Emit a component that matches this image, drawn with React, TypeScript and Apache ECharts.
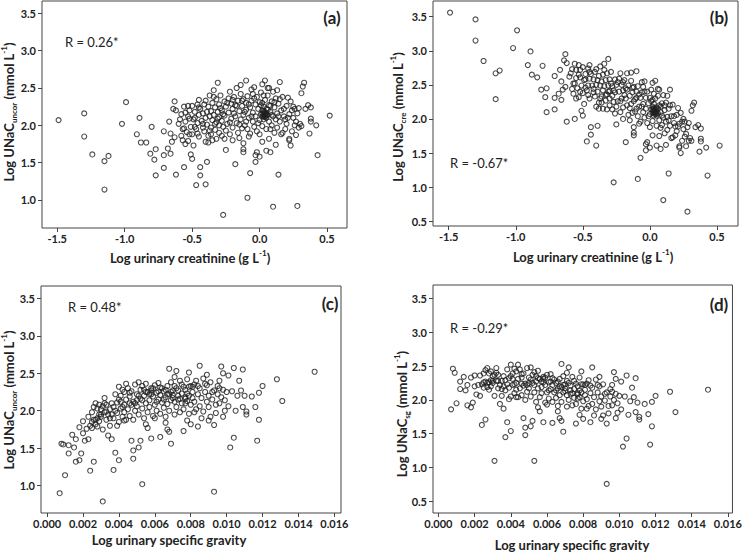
import React, { useEffect, useRef } from "react";
import * as echarts from "echarts";

// ---------- data ----------
const creatTicks = [-1.5, -1.0, -0.5, 0.0, 0.5];
const sgTicks = [0.0, 0.002, 0.004, 0.006, 0.008, 0.01, 0.012, 0.014, 0.016];
const yTicksA = [1.0, 1.5, 2.0, 2.5, 3.0, 3.5];
const yTicksB = [0.5, 1.0, 1.5, 2.0, 2.5, 3.0, 3.5];

const rLabels = ["R = 0.26*", "R = -0.67*", "R = 0.48*", "R = -0.29*"];
const panelLabels = ["(a)", "(b)", "(c)", "(d)"];

// (a) Log urinary creatinine vs Log UNaC_uncor
const panelA: number[][] = [
  [-1.49,2.07],[-1.30,2.16],[-1.30,1.85],[-1.24,1.61],[-1.15,1.52],[-1.12,1.59],[-1.15,1.14],[-1.02,2.02],[-0.99,2.31],[-0.89,2.10],
  [-0.91,1.88],[-0.88,1.77],[-0.84,1.77],[-0.80,1.98],[-0.81,1.62],[-0.78,1.54],[-0.77,1.68],[-0.77,1.33],[-0.71,1.92],[-0.71,1.60],
  [-0.71,1.43],[-0.68,1.69],[-0.67,2.05],[-0.66,1.89],[-0.66,1.62],[-0.65,1.78],[-0.63,1.84],[-0.64,2.22],[-0.63,2.32],[-0.62,2.20],
  [-0.62,1.34],[-0.59,2.08],[-0.57,1.80],[-0.56,1.44],[-0.56,1.96],[-0.55,2.17],[-0.55,1.75],[-0.53,2.26],[-0.52,1.88],[-0.51,1.61],
  [-0.50,1.55],[-0.49,1.73],[-0.48,2.10],[-0.47,1.20],[-0.46,1.89],[-0.45,2.34],[-0.44,1.44],[-0.44,1.33],[-0.42,1.97],[-0.41,2.28],
  [-0.40,1.21],[-0.39,1.51],[-0.38,1.77],[-0.37,2.40],[-0.36,1.88],[-0.34,2.47],[-0.32,1.82],[-0.31,2.57],[-0.30,2.00],[-0.28,1.86],
  [-0.27,0.80],[-0.25,1.67],[-0.22,2.45],[-0.20,1.80],[-0.18,1.48],[-0.17,2.50],[-0.14,2.54],[-0.12,1.76],[-0.12,1.64],[-0.12,1.68],
  [-0.10,2.60],[-0.09,1.03],[-0.07,1.36],[-0.05,2.42],[-0.04,2.51],[-0.03,1.60],[-0.03,1.51],[-0.02,1.64],[0.00,1.58],[0.03,2.40],
  [0.04,2.60],[0.05,1.66],[0.06,2.50],[0.08,1.64],[0.08,1.95],[0.10,0.91],[0.12,1.74],[0.14,1.34],[0.15,2.58],[0.15,2.35],
  [0.17,1.90],[0.19,2.08],[0.21,2.37],[0.22,1.80],[0.23,1.73],[0.24,2.20],[0.26,2.00],[0.27,1.87],[0.28,0.92],[0.29,2.23],
  [0.31,2.43],[0.32,2.52],[0.33,2.57],[0.34,2.22],[0.36,2.27],[0.37,1.89],[0.38,2.24],[0.38,2.09],[0.38,2.05],[0.42,2.00],
  [0.43,1.60],[0.52,2.13],[0.30,2.02],[0.31,1.99],[0.25,2.25],[0.22,1.82],
  [-0.60,2.02],[-0.58,2.15],[-0.57,1.95],[-0.56,2.25],[-0.55,2.05],[-0.54,1.91],[-0.53,2.12],[-0.52,2.20],[-0.51,1.98],[-0.50,2.26],
  [-0.50,1.88],[-0.49,2.08],[-0.48,2.18],[-0.47,1.95],[-0.46,2.28],[-0.46,2.03],[-0.45,1.85],[-0.45,2.14],[-0.44,2.22],[-0.43,2.06],
  [-0.42,2.16],[-0.41,1.92],[-0.40,2.33],[-0.40,2.10],[-0.39,2.01],[-0.38,2.25],[-0.38,1.86],[-0.37,2.12],[-0.36,2.19],[-0.36,1.97],
  [-0.35,2.30],[-0.35,2.07],[-0.34,2.14],[-0.33,1.94],[-0.33,2.24],[-0.32,2.35],[-0.32,2.04],[-0.31,2.18],[-0.30,2.11],[-0.30,1.90],
  [-0.30,2.28],[-0.29,2.40],[-0.28,2.06],[-0.28,2.20],[-0.27,1.98],[-0.26,2.32],[-0.26,2.13],[-0.25,2.25],[-0.25,1.93],[-0.24,2.02],
  [-0.23,2.36],[-0.23,2.17],[-0.22,1.88],[-0.21,2.29],[-0.21,2.09],[-0.20,2.22],[-0.20,1.97],[-0.19,2.38],[-0.18,2.12],[-0.18,2.27],
  [-0.17,2.03],[-0.16,2.33],[-0.16,1.90],[-0.15,2.19],[-0.14,2.42],[-0.14,2.08],[-0.13,2.26],[-0.13,1.96],[-0.12,2.35],[-0.12,2.14],
  [-0.11,2.00],[-0.10,2.30],[-0.10,2.21],[-0.09,1.95],[-0.09,2.39],[-0.08,2.10],[-0.07,2.24],[-0.07,1.89],[-0.06,2.33],[-0.05,2.05],
  [-0.05,2.17],[-0.04,1.98],[-0.03,2.28],[-0.03,2.12],[-0.02,2.38],[-0.02,1.92],[-0.01,2.22],[0.00,2.07],[0.00,2.31],[0.01,2.15],
  [0.01,2.44],[0.02,2.12],[0.02,2.20],[0.02,1.99],[0.03,2.16],[0.03,2.25],[0.03,2.08],[0.04,2.13],[0.04,2.18],[0.04,2.34],
  [0.05,2.10],[0.05,1.95],[0.05,2.22],[0.06,2.14],[0.06,2.40],[0.07,2.05],[0.07,2.27],[0.08,2.18],[0.09,2.32],[0.09,2.00],
  [0.10,2.12],[0.10,2.45],[0.11,1.90],[0.11,2.24],[0.12,2.08],[0.12,2.36],[0.13,2.16],[0.13,1.97],[0.14,2.29],[0.15,2.05],
  [0.16,2.20],[0.16,1.88],[0.17,2.38],[0.18,2.12],[0.19,1.95],[0.20,2.26],[0.20,2.02],[0.22,2.15],[0.23,2.32],[0.24,1.92],
  [0.25,2.10],[0.26,2.22],[0.27,2.05],[0.28,2.16],[0.29,1.97],
  [0.07,2.50],[0.13,2.47],[-0.06,2.48],[0.02,2.55],[-0.40,1.78],[-0.35,1.80],[-0.26,1.82],[-0.15,1.83],[-0.08,1.85],[0.00,1.88],
  [0.02,1.78],[0.07,1.82],[-0.58,1.86],[-0.53,1.79],
  [-0.45,2.24],[-0.42,2.02],[-0.39,2.18],[-0.37,1.93],[-0.34,2.38],[-0.31,2.09],[-0.29,2.23],[-0.27,2.15],[-0.24,2.30],[-0.22,2.04],
  [-0.19,2.16],[-0.17,2.26],[-0.15,2.01],[-0.13,2.33],[-0.11,2.18],[-0.08,2.28],[-0.06,2.12],[-0.04,2.36],[-0.01,2.03],[0.01,2.27],
  [0.03,2.19],[0.04,2.11],[0.05,2.16],[0.06,2.21],[0.08,2.26],[0.09,2.14],[0.11,2.31],[0.14,2.12],[0.18,2.22],[0.21,2.10],
  [-0.48,1.98],[-0.52,2.09],[-0.33,2.02],[-0.20,2.34],[-0.10,2.05],[0.02,2.30],[0.03,2.12],[0.04,2.15],[0.02,2.16],[0.05,2.13],
];

// (b) Log urinary creatinine vs Log UNaC_cre
const panelB: number[][] = [
  [-1.49,3.56],[-1.30,3.46],[-1.30,3.15],[-1.24,2.85],[-1.15,2.67],[-1.12,2.71],[-1.15,2.29],[-1.02,3.04],[-0.99,3.30],[-0.89,2.99],
  [-0.91,2.79],[-0.88,2.65],[-0.84,2.61],[-0.80,2.78],[-0.81,2.43],[-0.78,2.32],[-0.77,2.45],[-0.77,2.10],[-0.71,2.63],[-0.71,2.31],
  [-0.71,2.14],[-0.68,2.37],[-0.67,2.72],[-0.66,2.55],[-0.66,2.28],[-0.65,2.43],[-0.63,2.47],[-0.64,2.86],[-0.63,2.95],[-0.62,2.82],
  [-0.62,1.96],[-0.59,2.67],[-0.57,2.37],[-0.56,2.00],[-0.56,2.52],[-0.55,2.72],[-0.55,2.30],[-0.53,2.79],[-0.52,2.40],[-0.51,2.12],
  [-0.50,2.05],[-0.49,2.22],[-0.48,2.58],[-0.47,1.67],[-0.46,2.35],[-0.45,2.79],[-0.44,1.88],[-0.44,1.77],[-0.42,2.39],[-0.41,2.69],
  [-0.40,1.61],[-0.39,1.90],[-0.38,2.15],[-0.37,2.77],[-0.36,2.24],[-0.34,2.81],[-0.32,2.14],[-0.31,2.88],[-0.30,2.30],[-0.28,2.14],
  [-0.27,1.07],[-0.25,1.92],[-0.22,2.67],[-0.20,2.00],[-0.18,1.66],[-0.17,2.67],[-0.14,2.68],[-0.12,1.88],[-0.12,1.76],[-0.12,1.80],
  [-0.10,2.70],[-0.09,1.12],[-0.07,1.43],[-0.05,2.47],[-0.04,2.55],[-0.03,1.63],[-0.03,1.54],[-0.02,1.66],[0.00,1.58],[0.03,2.37],
  [0.04,2.56],[0.05,1.61],[0.06,2.44],[0.08,1.56],[0.08,1.87],[0.10,0.81],[0.12,1.62],[0.14,1.20],[0.15,2.43],[0.15,2.20],
  [0.17,1.73],[0.19,1.89],[0.21,2.16],[0.22,1.58],[0.23,1.50],[0.24,1.96],[0.26,1.74],[0.27,1.60],[0.28,0.64],[0.29,1.94],
  [0.31,2.12],[0.32,2.20],[0.33,2.24],[0.34,1.88],[0.36,1.91],[0.37,1.52],[0.38,1.86],[0.38,1.71],[0.38,1.67],[0.42,1.58],
  [0.43,1.17],[0.52,1.61],[0.30,1.72],[0.31,1.68],[0.25,2.00],[0.22,1.60],
  [-0.60,2.62],[-0.58,2.73],[-0.57,2.52],[-0.56,2.81],[-0.55,2.60],[-0.54,2.45],[-0.53,2.65],[-0.52,2.72],[-0.51,2.49],[-0.50,2.76],
  [-0.50,2.38],[-0.49,2.57],[-0.48,2.66],[-0.47,2.42],[-0.46,2.74],[-0.46,2.49],[-0.45,2.30],[-0.45,2.59],[-0.44,2.66],[-0.43,2.49],
  [-0.42,2.58],[-0.41,2.33],[-0.40,2.73],[-0.40,2.50],[-0.39,2.40],[-0.38,2.63],[-0.38,2.24],[-0.37,2.49],[-0.36,2.55],[-0.36,2.33],
  [-0.35,2.65],[-0.35,2.42],[-0.34,2.48],[-0.33,2.27],[-0.33,2.57],[-0.32,2.67],[-0.32,2.36],[-0.31,2.49],[-0.30,2.41],[-0.30,2.20],
  [-0.30,2.58],[-0.29,2.69],[-0.28,2.34],[-0.28,2.48],[-0.27,2.25],[-0.26,2.58],[-0.26,2.39],[-0.25,2.50],[-0.25,2.18],[-0.24,2.26],
  [-0.23,2.59],[-0.23,2.40],[-0.22,2.10],[-0.21,2.50],[-0.21,2.30],[-0.20,2.42],[-0.20,2.17],[-0.19,2.57],[-0.18,2.30],[-0.18,2.45],
  [-0.17,2.20],[-0.16,2.49],[-0.16,2.06],[-0.15,2.34],[-0.14,2.56],[-0.14,2.22],[-0.13,2.39],[-0.13,2.09],[-0.12,2.47],[-0.12,2.26],
  [-0.11,2.11],[-0.10,2.40],[-0.10,2.31],[-0.09,2.04],[-0.09,2.48],[-0.08,2.18],[-0.07,2.31],[-0.07,1.96],[-0.06,2.39],[-0.05,2.10],
  [-0.05,2.22],[-0.04,2.02],[-0.03,2.31],[-0.03,2.15],[-0.02,2.40],[-0.02,1.94],[-0.01,2.23],[0.00,2.07],[0.00,2.31],[0.01,2.14],
  [0.01,2.43],[0.02,2.10],[0.02,2.18],[0.02,1.97],[0.03,2.13],[0.03,2.22],[0.03,2.05],[0.04,2.09],[0.04,2.14],[0.04,2.30],
  [0.05,2.05],[0.05,1.90],[0.05,2.17],[0.06,2.08],[0.06,2.34],[0.07,1.98],[0.07,2.20],[0.08,2.10],[0.09,2.23],[0.09,1.91],
  [0.10,2.02],[0.10,2.35],[0.11,1.79],[0.11,2.13],[0.12,1.96],[0.12,2.24],[0.13,2.03],[0.13,1.84],[0.14,2.15],[0.15,1.90],
  [0.16,2.04],[0.16,1.72],[0.17,2.21],[0.18,1.94],[0.19,1.76],[0.20,2.06],[0.20,1.82],[0.22,1.93],[0.23,2.09],[0.24,1.68],
  [0.25,1.85],[0.26,1.96],[0.27,1.78],[0.28,1.88],[0.29,1.68],
  [0.07,2.43],[0.13,2.34],[-0.06,2.54],[0.02,2.53],[-0.40,2.18],[-0.35,2.15],[-0.26,2.08],[-0.15,1.98],[-0.08,1.93],[0.00,1.88],
  [0.02,1.76],[0.07,1.75],[-0.58,2.44],[-0.53,2.32],
  [-0.45,2.69],[-0.42,2.44],[-0.39,2.57],[-0.37,2.30],[-0.34,2.72],[-0.31,2.40],[-0.29,2.52],[-0.27,2.42],[-0.24,2.54],[-0.22,2.26],
  [-0.19,2.35],[-0.17,2.43],[-0.15,2.16],[-0.13,2.46],[-0.11,2.29],[-0.08,2.36],[-0.06,2.18],[-0.04,2.40],[-0.01,2.04],[0.01,2.26],
  [0.03,2.16],[0.04,2.07],[0.05,2.11],[0.06,2.15],[0.08,2.18],[0.09,2.05],[0.11,2.20],[0.14,1.98],[0.18,2.04],[0.21,1.89],
  [-0.48,2.46],[-0.52,2.61],[-0.33,2.35],[-0.20,2.54],[-0.10,2.15],[0.02,2.28],[0.03,2.09],[0.04,2.11],[0.02,2.14],[0.05,2.08],
];

// (c) Log urinary specific gravity vs Log UNaC_uncor
const panelC: number[][] = [
  [0.0007,0.90],[0.0008,1.56],[0.0009,1.55],[0.0010,1.14],[0.0012,1.54],[0.0012,1.43],[0.0014,1.68],[0.0016,1.62],[0.0015,1.51],[0.0016,1.32],
  [0.0018,1.34],[0.0019,1.43],[0.0018,1.78],[0.0020,1.86],[0.0020,1.70],[0.0021,1.60],[0.0022,1.76],[0.0023,1.62],[0.0024,1.20],[0.0025,1.77],
  [0.0025,1.98],[0.0026,1.32],[0.0026,2.05],[0.0027,2.10],[0.0027,1.82],[0.0028,1.90],[0.0028,1.79],[0.0029,2.08],[0.0029,1.86],[0.0030,2.02],
  [0.0030,1.95],[0.0031,0.79],[0.0031,1.75],[0.0032,2.17],[0.0032,2.10],[0.0033,1.88],[0.0033,1.99],[0.0034,1.67],[0.0035,1.80],[0.0036,1.95],
  [0.0036,1.62],[0.0037,1.21],[0.0038,1.44],[0.0039,1.80],[0.0039,2.11],[0.0039,1.97],[0.0040,2.32],[0.0040,1.34],[0.0041,2.20],[0.0042,2.05],
  [0.0042,1.92],[0.0043,2.25],[0.0043,1.87],[0.0047,1.60],[0.0048,1.47],[0.0048,1.36],[0.0051,1.51],[0.0052,1.60],[0.0053,1.02],[0.0055,1.82],
  [0.0056,1.77],[0.0058,1.63],[0.0060,1.90],[0.0063,1.65],[0.0066,1.84],[0.0067,1.75],[0.0068,1.72],[0.0069,1.56],[0.0068,2.56],[0.0071,2.45],
  [0.0072,2.53],[0.0076,1.73],[0.0077,2.10],[0.0078,1.87],[0.0079,2.51],[0.0080,1.82],[0.0082,1.98],[0.0085,2.60],[0.0084,1.79],[0.0086,1.90],
  [0.0089,2.48],[0.0090,1.87],[0.0091,1.92],[0.0093,0.92],[0.0093,1.81],[0.0094,1.97],[0.0096,2.40],[0.0097,2.59],[0.0098,2.50],[0.0098,1.92],
  [0.0099,2.00],[0.0101,2.47],[0.0102,1.51],[0.0103,2.26],[0.0104,1.64],[0.0104,2.57],[0.0105,2.00],[0.0106,2.20],[0.0107,2.40],[0.0108,2.27],
  [0.0109,2.55],[0.0109,2.05],[0.0110,2.20],[0.0111,1.95],[0.0111,1.99],[0.0114,2.19],[0.0116,2.05],[0.0117,1.60],[0.0118,2.24],[0.0118,1.88],
  [0.0120,2.33],[0.0128,2.42],[0.0131,2.13],[0.0149,2.52],
  [0.0044,2.15],[0.0045,2.02],[0.0045,2.30],[0.0046,1.93],[0.0046,2.19],[0.0047,2.08],[0.0047,2.26],[0.0048,1.88],[0.0048,2.12],[0.0049,2.35],
  [0.0049,2.00],[0.0050,2.22],[0.0050,2.06],[0.0051,2.38],[0.0051,1.95],[0.0052,2.16],[0.0052,2.28],[0.0053,2.03],[0.0053,2.33],[0.0054,1.90],
  [0.0054,2.20],[0.0055,2.10],[0.0055,2.36],[0.0056,1.98],[0.0056,2.25],[0.0057,2.14],[0.0057,2.05],[0.0058,2.30],[0.0058,2.27],[0.0059,1.93],
  [0.0059,2.19],[0.0060,2.34],[0.0060,2.08],[0.0061,2.24],[0.0061,2.00],[0.0062,2.15],[0.0062,2.37],[0.0063,2.21],[0.0063,1.96],[0.0064,2.11],
  [0.0064,2.30],[0.0065,2.04],[0.0065,2.26],[0.0066,2.18],[0.0066,1.92],[0.0067,2.33],[0.0067,2.09],[0.0068,2.22],[0.0068,2.00],[0.0069,2.14],
  [0.0069,2.38],[0.0070,2.17],[0.0070,2.27],[0.0071,1.95],[0.0071,2.12],[0.0072,2.30],[0.0072,2.05],[0.0073,2.20],[0.0073,2.15],[0.0074,2.40],
  [0.0074,1.98],[0.0075,2.23],[0.0075,2.10],[0.0076,2.32],[0.0076,2.02],[0.0077,2.18],[0.0077,2.28],[0.0078,2.13],[0.0078,2.42],[0.0079,2.20],
  [0.0079,1.96],[0.0080,2.33],[0.0080,2.08],[0.0081,2.25],[0.0082,2.35],[0.0082,2.12],[0.0083,2.02],[0.0083,2.40],[0.0084,2.22],[0.0085,2.30],
  [0.0085,2.06],[0.0086,2.17],[0.0087,2.43],[0.0087,1.99],[0.0088,2.25],[0.0089,2.12],[0.0089,2.34],[0.0090,2.05],[0.0090,2.20],[0.0091,2.38],
  [0.0092,2.15],[0.0093,2.27],[0.0094,2.08],[0.0095,2.22],[0.0095,2.33],[0.0096,2.10],[0.0097,2.18],[0.0098,2.28],[0.0099,2.14],[0.0100,2.25],
  [0.0101,2.06],
  [0.0033,2.08],[0.0034,1.95],[0.0035,2.02],[0.0036,2.10],[0.0037,1.90],[0.0038,2.00],[0.0038,2.22],[0.0040,2.15],[0.0040,1.85],[0.0041,2.03],
  [0.0042,2.28],[0.0043,1.98],[0.0044,1.88],[0.0044,2.36],[0.0030,1.92],[0.0031,2.06],[0.0028,2.03],[0.0026,1.88],[0.0024,1.80],[0.0023,1.92],
  [0.0046,2.10],[0.0050,2.14],[0.0054,2.28],[0.0058,2.22],[0.0062,2.26],[0.0066,2.28],[0.0070,2.21],[0.0074,2.16],[0.0078,2.23],[0.0081,2.32],
  [0.0046,2.24],[0.0049,2.10],[0.0051,2.20],[0.0053,2.14],[0.0055,2.25],[0.0057,2.22],[0.0059,2.30],[0.0061,2.12],[0.0063,2.31],[0.0065,2.15],
  [0.0067,2.22],[0.0069,2.25],[0.0071,2.33],[0.0073,2.27],[0.0075,2.35],[0.0077,2.16],[0.0079,2.32],[0.0081,2.17],[0.0084,2.33],[0.0088,2.36],
  [0.0092,2.25],[0.0096,2.30],[0.0041,2.12],[0.0043,2.08],[0.0037,2.05],[0.0035,1.90],[0.0032,1.98],[0.0029,1.95],[0.0027,1.88],[0.0025,1.85],
];

// (d) Log urinary specific gravity vs Log UNaC_sg
const panelD: number[][] = [
  [0.0007,1.86],[0.0008,2.46],[0.0009,2.40],[0.0010,1.95],[0.0012,2.27],[0.0012,2.16],[0.0014,2.34],[0.0016,2.22],[0.0015,2.14],[0.0016,1.92],
  [0.0018,1.89],[0.0019,1.96],[0.0018,2.33],[0.0020,2.36],[0.0020,2.20],[0.0021,2.08],[0.0022,2.22],[0.0023,2.06],[0.0024,1.63],[0.0025,2.18],
  [0.0025,2.39],[0.0026,1.71],[0.0026,2.44],[0.0027,2.47],[0.0027,2.19],[0.0028,2.26],[0.0028,2.15],[0.0029,2.42],[0.0029,2.20],[0.0030,2.35],
  [0.0030,2.28],[0.0031,1.10],[0.0031,2.06],[0.0032,2.47],[0.0032,2.40],[0.0033,2.17],[0.0033,2.28],[0.0034,1.94],[0.0035,2.06],[0.0036,2.20],
  [0.0036,1.87],[0.0037,1.45],[0.0038,1.67],[0.0039,2.01],[0.0039,2.32],[0.0039,2.18],[0.0040,2.52],[0.0040,1.54],[0.0041,2.39],[0.0042,2.23],
  [0.0042,2.10],[0.0043,2.42],[0.0043,2.04],[0.0047,1.73],[0.0048,1.59],[0.0048,1.48],[0.0051,1.61],[0.0052,1.69],[0.0053,1.10],[0.0055,1.89],
  [0.0056,1.83],[0.0058,1.67],[0.0060,1.93],[0.0063,1.66],[0.0066,1.83],[0.0067,1.73],[0.0068,1.69],[0.0069,1.53],[0.0068,2.53],[0.0071,2.40],
  [0.0072,2.48],[0.0076,1.65],[0.0077,2.02],[0.0078,1.78],[0.0079,2.42],[0.0080,1.72],[0.0082,1.87],[0.0085,2.48],[0.0084,1.67],[0.0086,1.77],
  [0.0089,2.34],[0.0090,1.72],[0.0091,1.77],[0.0093,0.76],[0.0093,1.65],[0.0094,1.80],[0.0096,2.22],[0.0097,2.41],[0.0098,2.31],[0.0098,1.73],
  [0.0099,1.81],[0.0101,2.27],[0.0102,1.31],[0.0103,2.05],[0.0104,1.43],[0.0104,2.36],[0.0105,1.78],[0.0106,1.98],[0.0107,2.18],[0.0108,2.04],
  [0.0109,2.32],[0.0109,1.82],[0.0110,1.96],[0.0111,1.71],[0.0111,1.75],[0.0114,1.94],[0.0116,1.79],[0.0117,1.34],[0.0118,1.97],[0.0118,1.61],
  [0.0120,2.06],[0.0128,2.12],[0.0131,1.82],[0.0149,2.15],
  [0.0044,2.31],[0.0045,2.17],[0.0045,2.45],[0.0046,2.07],[0.0046,2.33],[0.0047,2.21],[0.0047,2.39],[0.0048,2.00],[0.0048,2.24],[0.0049,2.47],
  [0.0049,2.12],[0.0050,2.33],[0.0050,2.17],[0.0051,2.48],[0.0051,2.05],[0.0052,2.25],[0.0052,2.37],[0.0053,2.11],[0.0053,2.41],[0.0054,1.97],
  [0.0054,2.27],[0.0055,2.17],[0.0055,2.43],[0.0056,2.04],[0.0056,2.31],[0.0057,2.19],[0.0057,2.10],[0.0058,2.34],[0.0058,2.31],[0.0059,1.96],
  [0.0059,2.22],[0.0060,2.37],[0.0060,2.11],[0.0061,2.26],[0.0061,2.02],[0.0062,2.16],[0.0062,2.38],[0.0063,2.22],[0.0063,1.97],[0.0064,2.11],
  [0.0064,2.30],[0.0065,2.03],[0.0065,2.25],[0.0066,2.17],[0.0066,1.91],[0.0067,2.31],[0.0067,2.07],[0.0068,2.19],[0.0068,1.97],[0.0069,2.11],
  [0.0069,2.35],[0.0070,2.13],[0.0070,2.23],[0.0071,1.90],[0.0071,2.07],[0.0072,2.25],[0.0072,2.00],[0.0073,2.14],[0.0073,2.09],[0.0074,2.34],
  [0.0074,1.92],[0.0075,2.16],[0.0075,2.03],[0.0076,2.24],[0.0076,1.94],[0.0077,2.10],[0.0077,2.20],[0.0078,2.04],[0.0078,2.33],[0.0079,2.11],
  [0.0079,1.87],[0.0080,2.23],[0.0080,1.98],[0.0081,2.15],[0.0082,2.24],[0.0082,2.01],[0.0083,1.91],[0.0083,2.29],[0.0084,2.10],[0.0085,2.18],
  [0.0085,1.94],[0.0086,2.04],[0.0087,2.30],[0.0087,1.86],[0.0088,2.11],[0.0089,1.98],[0.0089,2.20],[0.0090,1.90],[0.0090,2.05],[0.0091,2.23],
  [0.0092,1.99],[0.0093,2.11],[0.0094,1.91],[0.0095,2.05],[0.0095,2.16],[0.0096,1.92],[0.0097,2.00],[0.0098,2.09],[0.0099,1.95],[0.0100,2.06],
  [0.0101,1.86],
  [0.0033,2.37],[0.0034,2.22],[0.0035,2.28],[0.0036,2.35],[0.0037,2.14],[0.0038,2.23],[0.0038,2.45],[0.0040,2.35],[0.0040,2.05],[0.0041,2.22],
  [0.0042,2.46],[0.0043,2.15],[0.0044,2.04],[0.0044,2.52],[0.0030,2.25],[0.0031,2.37],[0.0028,2.39],[0.0026,2.27],[0.0024,2.23],[0.0023,2.36],
  [0.0046,2.24],[0.0050,2.25],[0.0054,2.35],[0.0058,2.26],[0.0062,2.27],[0.0066,2.27],[0.0070,2.17],[0.0074,2.10],[0.0078,2.14],[0.0081,2.22],
  [0.0046,2.38],[0.0049,2.22],[0.0051,2.30],[0.0053,2.22],[0.0055,2.32],[0.0057,2.27],[0.0059,2.33],[0.0061,2.14],[0.0063,2.32],[0.0065,2.14],
  [0.0067,2.20],[0.0069,2.22],[0.0071,2.28],[0.0073,2.21],[0.0075,2.28],[0.0077,2.08],[0.0079,2.23],[0.0081,2.07],[0.0084,2.21],[0.0088,2.22],
  [0.0092,2.09],[0.0096,2.12],[0.0041,2.31],[0.0043,2.25],[0.0037,2.29],[0.0035,2.16],[0.0032,2.28],[0.0029,2.29],[0.0027,2.25],[0.0025,2.26],
];

// ---------- chart ----------
const FONT = 'Lato, "Open Sans", "DejaVu Sans", sans-serif';
const INK = "#222";
const FRAME = "#444";

const grids = [
  { left: 42, top: 1, width: 305, height: 227 },
  { left: 433, top: 1, width: 305, height: 225 },
  { left: 41, top: 286, width: 300, height: 227 },
  { left: 433, top: 285, width: 305, height: 228 },
];

function xAxisDef(gridIndex: number, min: number, max: number, ticks: number[], digits: number) {
  return {
    type: "value",
    gridIndex,
    min,
    max,
    splitLine: { show: false },
    axisLine: { show: false, onZero: false },
    axisTick: { show: true, inside: false, length: 4, lineStyle: { color: FRAME }, customValues: ticks },
    axisLabel: {
      customValues: ticks,
      formatter: (v: number) => v.toFixed(digits),
      fontFamily: FONT,
      fontWeight: "bold",
      fontSize: 11,
      color: INK,
      margin: 5,
    },
  };
}

function yAxisDef(gridIndex: number, min: number, max: number, ticks: number[]) {
  return {
    type: "value",
    gridIndex,
    min,
    max,
    splitLine: { show: false },
    axisLine: { show: false, onZero: false },
    axisTick: { show: true, inside: false, length: 4, lineStyle: { color: FRAME }, customValues: ticks },
    axisLabel: {
      customValues: ticks,
      formatter: (v: number) => v.toFixed(1),
      fontFamily: FONT,
      fontWeight: "bold",
      fontSize: 11,
      color: INK,
      margin: 6,
    },
  };
}

const richTitle = {
  b: { fontFamily: FONT, fontWeight: "bold", fontSize: 13, fill: INK, color: INK, lineHeight: 18 },
  s: { fontFamily: FONT, fontWeight: "bold", fontSize: 8, fill: INK, color: INK, lineHeight: 9, verticalAlign: "bottom" },
  p: { fontFamily: FONT, fontWeight: "bold", fontSize: 8, fill: INK, color: INK, lineHeight: 9, verticalAlign: "top" },
};

function yTitle(x: number, y: number, sub: string) {
  return {
    type: "text",
    x,
    y,
    rotation: Math.PI / 2,
    style: {
      text: `{b|Log UNaC}{s|${sub}}{b| (mmol L}{p|-1}{b|)}`,
      rich: richTitle,
      align: "center",
      verticalAlign: "middle",
      fill: INK,
    },
  };
}

function xTitle(x: number, y: number, creat: boolean) {
  return {
    type: "text",
    x,
    y,
    style: {
      text: creat ? "{b|Log urinary creatinine (g L}{p|-1}{b|)}" : "{b|Log urinary specific gravity}",
      rich: richTitle,
      align: "center",
      verticalAlign: "middle",
      fill: INK,
    },
  };
}

function plainText(x: number, y: number, text: string, size: number, bold: boolean) {
  return {
    type: "text",
    x,
    y,
    style: {
      text,
      fontFamily: FONT,
      fontSize: size,
      fontWeight: bold ? "bold" : "normal",
      fill: INK,
      align: bold ? "center" : "left",
      verticalAlign: "middle",
    },
  };
}

const markerStyle = { color: "rgba(255,255,255,0)", borderColor: "#1e1e1e", borderWidth: 1.1 };

export default function App() {
  const ref = useRef<HTMLDivElement>(null);
  useEffect(() => {
    if (!ref.current) return;
    const chart = echarts.init(ref.current, undefined, { renderer: "svg" });
    const datasets = [panelA, panelB, panelC, panelD];
    chart.setOption({
      animation: false,
      backgroundColor: "#fff",
      grid: grids.map((g) => ({ ...g, show: true, borderColor: FRAME, borderWidth: 1, backgroundColor: "transparent" })),
      xAxis: [
        xAxisDef(0, -1.613, 0.648, creatTicks, 1),
        xAxisDef(1, -1.617, 0.657, creatTicks, 1),
        xAxisDef(2, -0.00034, 0.01637, sgTicks, 3),
        xAxisDef(3, -0.0003, 0.01625, sgTicks, 3),
      ],
      yAxis: [
        yAxisDef(0, 0.625, 3.665, yTicksA),
        yAxisDef(1, 0.43, 3.73, yTicksB),
        yAxisDef(2, 0.636, 3.664, yTicksA),
        yAxisDef(3, 0.33, 3.696, yTicksB),
      ],
      series: datasets.map((d, i) => ({
        type: "scatter",
        xAxisIndex: i,
        yAxisIndex: i,
        data: d,
        symbol: "circle",
        symbolSize: 5,
        itemStyle: markerStyle,
        emphasis: { disabled: true },
      })),
      graphic: [
        yTitle(9, 112, "uncor"),
        yTitle(398, 117, "cre"),
        yTitle(9, 400, "uncor"),
        yTitle(402, 414, "sg"),
        xTitle(190, 258, true),
        xTitle(593, 257, true),
        xTitle(169, 540, false),
        xTitle(572, 545, false),
        plainText(65, 42, rLabels[0], 13, false),
        plainText(450, 163, rLabels[1], 13, false),
        plainText(68, 307, rLabels[2], 13, false),
        plainText(450, 328, rLabels[3], 13, false),
        plainText(332, 17, panelLabels[0], 17, true),
        plainText(719, 17, panelLabels[1], 17, true),
        plainText(330, 303, panelLabels[2], 17, true),
        plainText(719, 304, panelLabels[3], 17, true),
      ],
    });
    return () => chart.dispose();
  }, []);
  return <div ref={ref} style={{ position: "absolute", left: 0, top: 0, width: 745, height: 552 }} />;
}
